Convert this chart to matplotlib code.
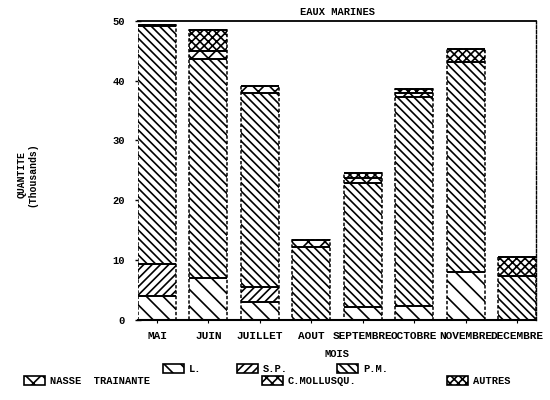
import numpy as np
import matplotlib
matplotlib.use("Agg")
import matplotlib.pyplot as plt
import matplotlib.patches as mpatches

months = ["MAI", "JUIN", "JUILLET", "AOUT", "SEPTEMBRE", "OCTOBRE", "NOVEMBRE", "DECEMBRE"]
series_names = ["L.", "S.P.", "P.M.", "NASSE  TRAINANTE", "C.MOLLUSQU.", "AUTRES"]
L_vals      = [4.0, 7.0, 3.0, 0.0, 2.1, 2.2, 7.9, 0.0]
SP_vals     = [5.25, 0.0, 2.5, 0.0, 0.0, 0.0, 0.0, 0.0]
PM_vals     = [39.85, 36.7, 32.4, 12.2, 20.7, 35.0, 35.3, 7.3]
NASSE_vals  = [0.3, 1.2, 1.2, 1.1, 0.85, 0.7, 0.0, 0.0]
CMOLL_vals  = [0.0, 0.0, 0.0, 0.0, 0.0, 0.0, 0.0, 0.0]
AUTRES_vals = [0.0, 3.6, 0.0, 0.0, 0.95, 0.7, 2.1, 3.2]
yticks = [0, 10, 20, 30, 40, 50]

plt.rcParams['font.family'] = ['Liberation Mono', 'DejaVu Sans Mono']
plt.rcParams['font.weight'] = 'bold'
plt.rcParams['hatch.linewidth'] = 1.2

series = [L_vals, SP_vals, PM_vals, NASSE_vals, CMOLL_vals, AUTRES_vals]
hatches = ['\\\\', '////', '\\\\\\\\', 'xx', 'xxx', 'xxxx']

fig = plt.figure(figsize=(5.5, 4), dpi=100)
ax = fig.add_axes([138/550, 1-319.5/400, 398/550, (319.5-21)/400])

x = np.arange(len(months))
w = 0.74
bottom = np.zeros(len(months))
for vals, h in zip(series, hatches):
    vals = np.array(vals)
    ax.bar(x, vals, w, bottom=bottom, color='white', edgecolor='black',
           linewidth=0, hatch=h, zorder=2)
    top = bottom + vals
    mask = vals > 0
    ax.hlines(top[mask], x[mask]-w/2, x[mask]+w/2, colors='black', linewidth=1.4, zorder=3)
    bottom = top

# dashed outlines of the whole bars
ax.bar(x, bottom, w, fill=False, edgecolor='black', linewidth=1.1,
       linestyle=(0, (2.2, 1.3)), zorder=3)

ax.set_xlim(-w/2, len(months)-1+w/2)
ax.set_ylim(0, 50)
ax.set_yticks(yticks)
ax.set_yticklabels([str(v) for v in yticks], fontsize=7.5)
ax.set_xticks(x)
ax.set_xticklabels(months, fontsize=8)
ax.tick_params(axis='y', direction='inout', length=5, width=1, pad=7)
ax.tick_params(axis='x', direction='out', length=2, width=0.8, pad=6)

ax.spines['left'].set_visible(False)
ax.spines['right'].set_linestyle((0, (2.2, 1.3)))
ax.spines['right'].set_linewidth(1.0)
ax.spines['top'].set_linewidth(1.3)
ax.spines['bottom'].set_linewidth(1.5)

ax.set_title("EAUX MARINES", fontsize=7.5, fontweight='bold', pad=4)
ax.set_xlabel("MOIS", fontsize=7.5, fontweight='bold', labelpad=6)

fig.text(27/550, 1-175/400, "QUANTITE\n(Thousands)", rotation=90, ha='center', va='center',
         fontsize=7, fontweight='bold', multialignment='center')

leg_pos = [(163, 369), (237, 369), (337, 369), (24, 381), (262, 381), (447, 381)]
for name, h, (px, py) in zip(series_names, hatches, leg_pos):
    handle = mpatches.Patch(facecolor='white', edgecolor='black', hatch=h, linewidth=1.2)
    fig.legend([handle], [name], loc='center left', bbox_to_anchor=(px/550, 1-py/400),
               frameon=False, borderpad=0, borderaxespad=0, handlelength=2.0,
               handleheight=0.9, handletextpad=0.5, prop={'size': 7.5, 'weight': 'bold'})

fig.savefig("out.png", dpi=100)
